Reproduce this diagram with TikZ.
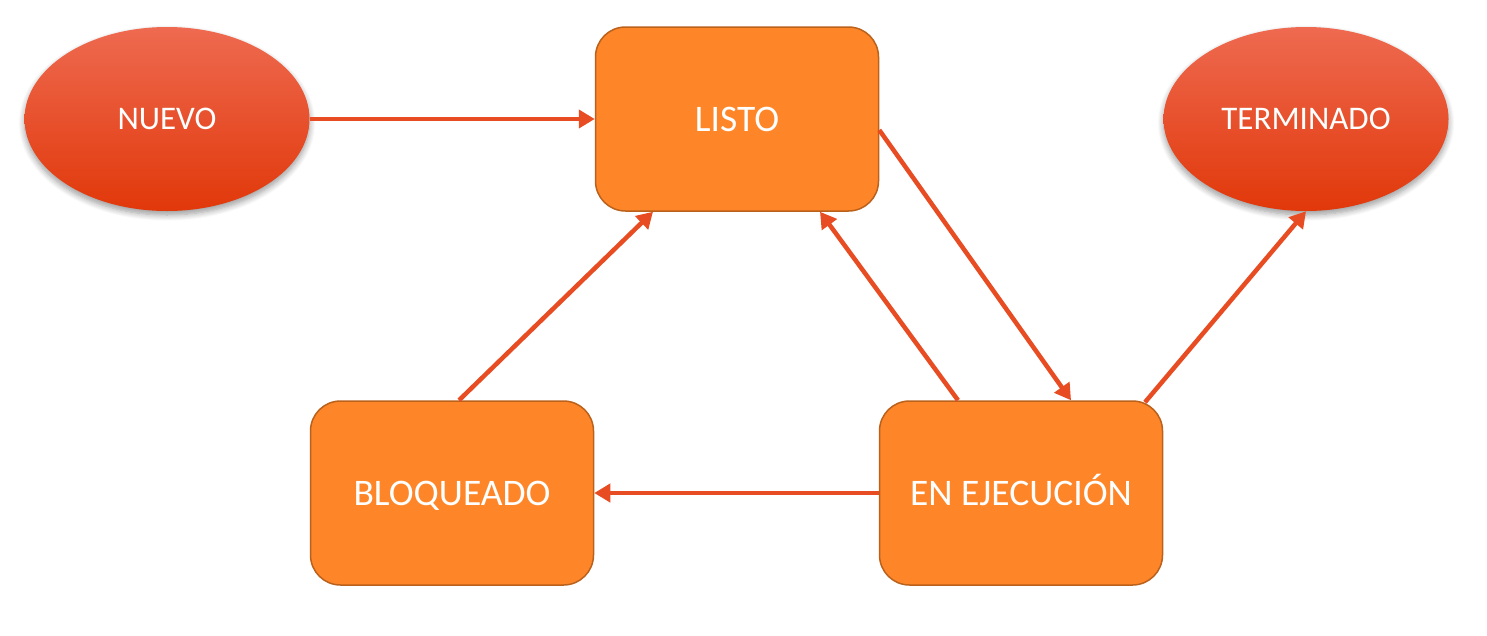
\documentclass[tikz,border=0pt]{standalone}
\usepackage{fontspec}
\setmainfont{Carlito}
\usetikzlibrary{arrows.meta,shapes.geometric,shadows.blur}
\definecolor{boxfill}{HTML}{FF8628}
\definecolor{boxdraw}{HTML}{BA611C}
\definecolor{elltop}{HTML}{EE6A50}
\definecolor{ellbot}{HTML}{E1380A}
\definecolor{arr}{HTML}{E84C22}
\tikzset{
  statebox/.style={draw=boxdraw, line width=1.5pt, fill=boxfill, rounded corners=30pt,
    minimum width=283pt, minimum height=184pt, text=white, font=\fontsize{37.5}{40}\selectfont,
    inner sep=0pt, text height=24pt, text depth=0pt},
  stateell/.style={ellipse, top color=elltop, bottom color=ellbot, minimum width=285pt, minimum height=184pt,
    text=white, font=\fontsize{33}{36}\selectfont, inner sep=0pt, text height=21pt, text depth=0pt,
    blur shadow={shadow xshift=0pt, shadow yshift=-4pt, shadow blur steps=8, shadow blur radius=6pt, shadow opacity=40}},
  conn/.style={draw=arr, line width=4.5pt, -{Triangle[length=16pt,width=18pt]}},
}
\begin{document}
\begin{tikzpicture}[x=1pt,y=-1pt]
\useasboundingbox (0,0) rectangle (1487,635);
\node[stateell] (nuevo) at (167,119) {NUEVO};
\node[statebox] (listo) at (737,119) {LISTO};
\node[stateell] (term) at (1306,119) {TERMINADO};
\node[statebox] (bloq) at (452,493) {BLOQUEADO};
\node[statebox] (ejec) at (1021,493) {EN EJECUCIÓN};
\draw[conn] (nuevo.east) -- (listo.west);
\draw[conn] (listo.east |- 0,130) -- (ejec.north -| 1071,0);
\draw[conn] (ejec.north -| 958,0) -- (listo.south -| 820,0);
\draw[conn] (ejec.north -| 1145,0) ++(0,2) coordinate (tstart) -- (term.south);
\draw[conn] (ejec.west) -- (bloq.east);
\draw[conn] (bloq.north -| 459,0) -- (listo.south -| 653,0);
\end{tikzpicture}
\end{document}
